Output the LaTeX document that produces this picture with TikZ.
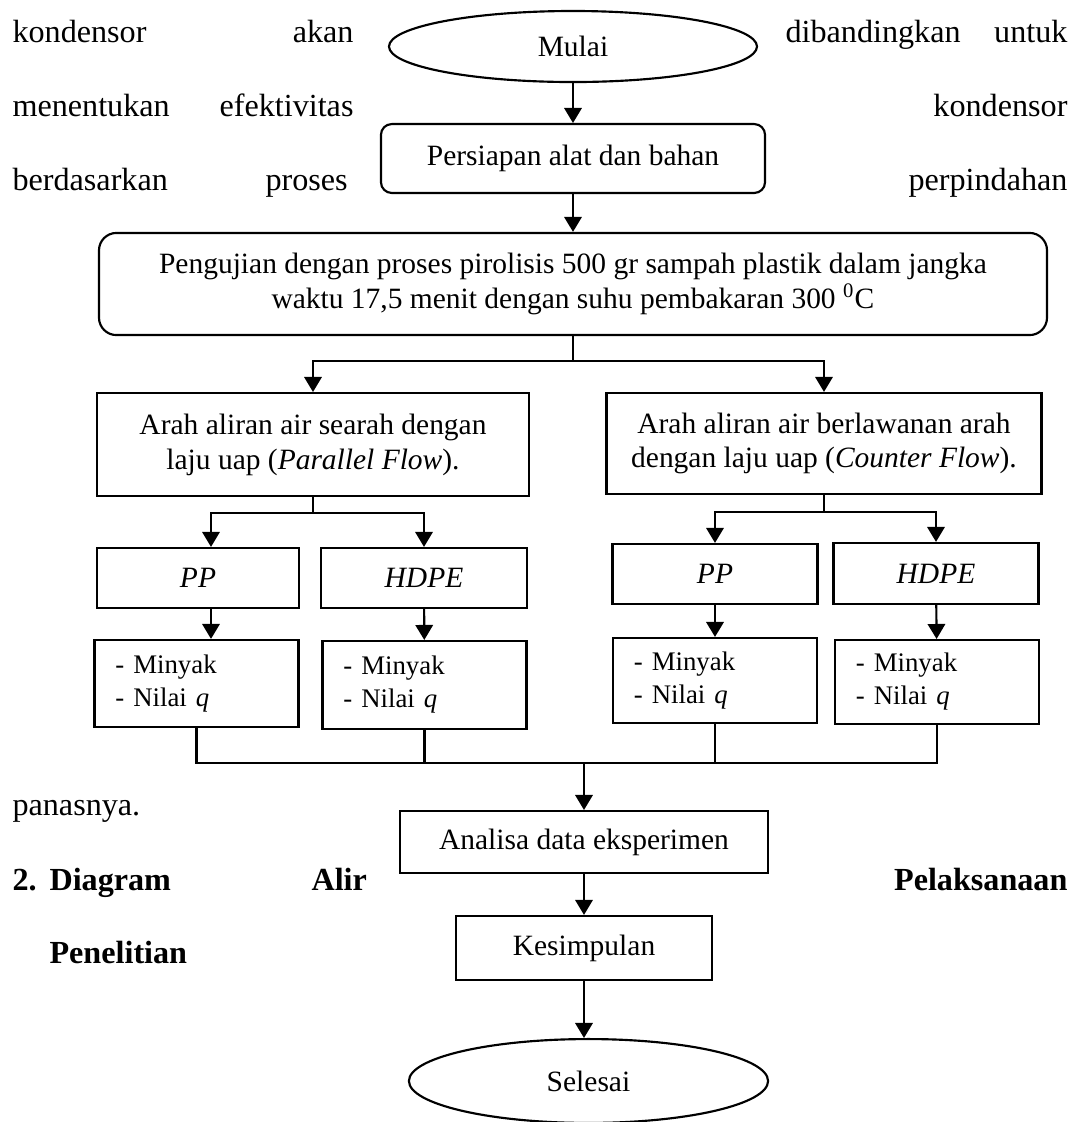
\documentclass[tikz,border=0pt]{standalone}
\usepackage{fontspec}
\setmainfont{Liberation Serif}
\usetikzlibrary{shapes.geometric, arrows.meta, positioning}
\tikzstyle{line} = [draw, line width = 0.8pt]
\tikzstyle{line2} = [draw, line width = 0.8pt, -{Triangle[length = 5.6pt, width = 6.5pt]}]
\tikzstyle{terminal} = [ellipse, draw, line width = 0.8pt, inner sep = 0pt, font = \fontsize{11}{13}\selectfont]
\tikzstyle{block} = [rectangle, draw, line width = 0.8pt, align = center, inner sep = 0pt, font = \fontsize{11}{13}\selectfont]
\tikzstyle{hasil} = [rectangle, draw, line width = 0.8pt, align = left, text width = 60.5pt, inner xsep = 7.8pt, inner ysep = 0pt, font = \fontsize{10}{12.3}\selectfont]
\tikzstyle{teks} = [inner sep = 0pt, font = \fontsize{12}{14}\selectfont]

\begin{document}
\begin{tikzpicture}[x = 0.3731pt, y = -0.3731pt]
			\useasboundingbox (0, 0) rectangle (1080, 1122);
			% Text around the chart
			\node [teks, anchor = base west] (k1) at (12, 42.5) {kondensor};
			\node [teks, anchor = base east] (k2) at (354, 42.5) {akan};
			\node [teks, anchor = base west] (k3) at (785, 42.5) {dibandingkan};
			\node [teks, anchor = base east] (k4) at (1068, 42.5) {untuk};
			\node [teks, anchor = base west] (k5) at (12, 116.5) {menentukan};
			\node [teks, anchor = base west] (k6) at (219, 116.5) {efektivitas};
			\node [teks, anchor = base east] (k7) at (1068, 116.5) {kondensor};
			\node [teks, anchor = base west] (k8) at (12, 190.5) {berdasarkan};
			\node [teks, anchor = base west] (k9) at (265, 190.5) {proses};
			\node [teks, anchor = base east] (k10) at (1068, 190.5) {perpindahan};
			\node [teks, anchor = base west] (k11) at (12, 815) {panasnya.};
			\node [teks, anchor = base west, font = \fontsize{12}{14}\selectfont\bfseries] (k12) at (12, 890) {2.};
			\node [teks, anchor = base west, font = \fontsize{12}{14}\selectfont\bfseries] (k13) at (49, 890) {Diagram};
			\node [teks, anchor = base west, font = \fontsize{12}{14}\selectfont\bfseries] (k14) at (311, 890) {Alir};
			\node [teks, anchor = base east, font = \fontsize{12}{14}\selectfont\bfseries] (k15) at (1068, 890) {Pelaksanaan};
			\node [teks, anchor = base west, font = \fontsize{12}{14}\selectfont\bfseries] (k16) at (49, 963) {Penelitian};
			% Place nodes
			\node [terminal, minimum width = 137.3pt, minimum height = 26.5pt] (mulai) at (573, 46.5) {Mulai};
			\node [block, rounded corners = 4pt, minimum width = 143.3pt, minimum height = 25.7pt] (persiapan) at (573, 158.5) {Persiapan alat dan bahan};
			\node [block, rounded corners = 6.5pt, minimum width = 353.7pt, minimum height = 38.1pt] (pengujian) at (573, 284) {Pengujian dengan proses pirolisis 500 gr sampah plastik dalam jangka\\ waktu 17,5 menit dengan suhu pembakaran 300 \textsuperscript{0}C};
			\node [block, minimum width = 161.2pt, minimum height = 38.4pt] (searah) at (313, 444.5) {Arah aliran air searah dengan\\ laju uap (\textit{Parallel Flow}).};
			\node [block, minimum width = 162.3pt, minimum height = 37.7pt] (lawan) at (824, 443.5) {Arah aliran air berlawanan arah\\ dengan laju uap (\textit{Counter Flow}).};
			\node [block, minimum width = 75.4pt, minimum height = 22.4pt] (ppA) at (198, 578) {\textit{PP}};
			\node [block, minimum width = 76.9pt, minimum height = 22.4pt] (hdpeA) at (424, 578) {\textit{HDPE}};
			\node [block, minimum width = 76.5pt, minimum height = 22.4pt] (ppB) at (715, 574) {\textit{PP}};
			\node [block, minimum width = 76.5pt, minimum height = 22.8pt] (hdpeB) at (936, 573.5) {\textit{HDPE}};
			\node [hasil, minimum height = 32.5pt] (hasilA1) at (196.5, 683.5) {- Minyak\\ - Nilai \textit{q}};
			\node [hasil, minimum height = 32.8pt] (hasilA2) at (424.5, 685) {- Minyak\\ - Nilai \textit{q}};
			\node [hasil, minimum height = 31.7pt] (hasilB1) at (715, 680.5) {- Minyak\\ - Nilai \textit{q}};
			\node [hasil, minimum height = 31.3pt] (hasilB2) at (937, 682) {- Minyak\\ - Nilai \textit{q}};
			\node [block, minimum width = 137.3pt, minimum height = 23.1pt] (analisa) at (584, 842) {Analisa data eksperimen};
			\node [block, minimum width = 95.5pt, minimum height = 23.9pt] (kesimpulan) at (584, 948) {Kesimpulan};
			\node [terminal, minimum width = 134pt, minimum height = 31.3pt] (selesai) at (588.5, 1081) {Selesai};
			% Branch points
			\coordinate (cabang) at (573, 361);
			\coordinate (cabangA) at (313, 513);
			\coordinate (cabangB) at (824, 512);
			\coordinate (kolomA) at (211, 0);
			\coordinate (gabung) at (584, 763);
			% Draw edges
			\path [line2] (mulai) -- (persiapan);
			\path [line2] (persiapan) -- (pengujian);
			\path [line] (pengujian) -- (cabang);
			\path [line2] (cabang) -| (searah);
			\path [line2] (cabang) -| (lawan);
			\path [line] (searah) -- (cabangA);
			\path [line2] (cabangA) -| (kolomA |- ppA.north);
			\path [line2] (cabangA) -| (hdpeA);
			\path [line2] (kolomA |- ppA.south) -- (kolomA |- hasilA1.north);
			\path [line2] (hdpeA) -- (hasilA2);
			\path [line] (lawan) -- (cabangB);
			\path [line2] (cabangB) -| (ppB);
			\path [line2] (cabangB) -| (hdpeB);
			\path [line2] (ppB) -- (hasilB1);
			\path [line2] (hdpeB) -- (hasilB2);
			\path [line] (hasilA1) |- (gabung);
			\path [line] (hasilA2) |- (gabung);
			\path [line] (hasilB1) |- (gabung);
			\path [line] (hasilB2) |- (gabung);
			\path [line2] (gabung) -- (analisa);
			\path [line2] (analisa) -- (kesimpulan);
			\path [line2] (kesimpulan) -- (kesimpulan |- selesai.north);
		\end{tikzpicture}
\end{document}
